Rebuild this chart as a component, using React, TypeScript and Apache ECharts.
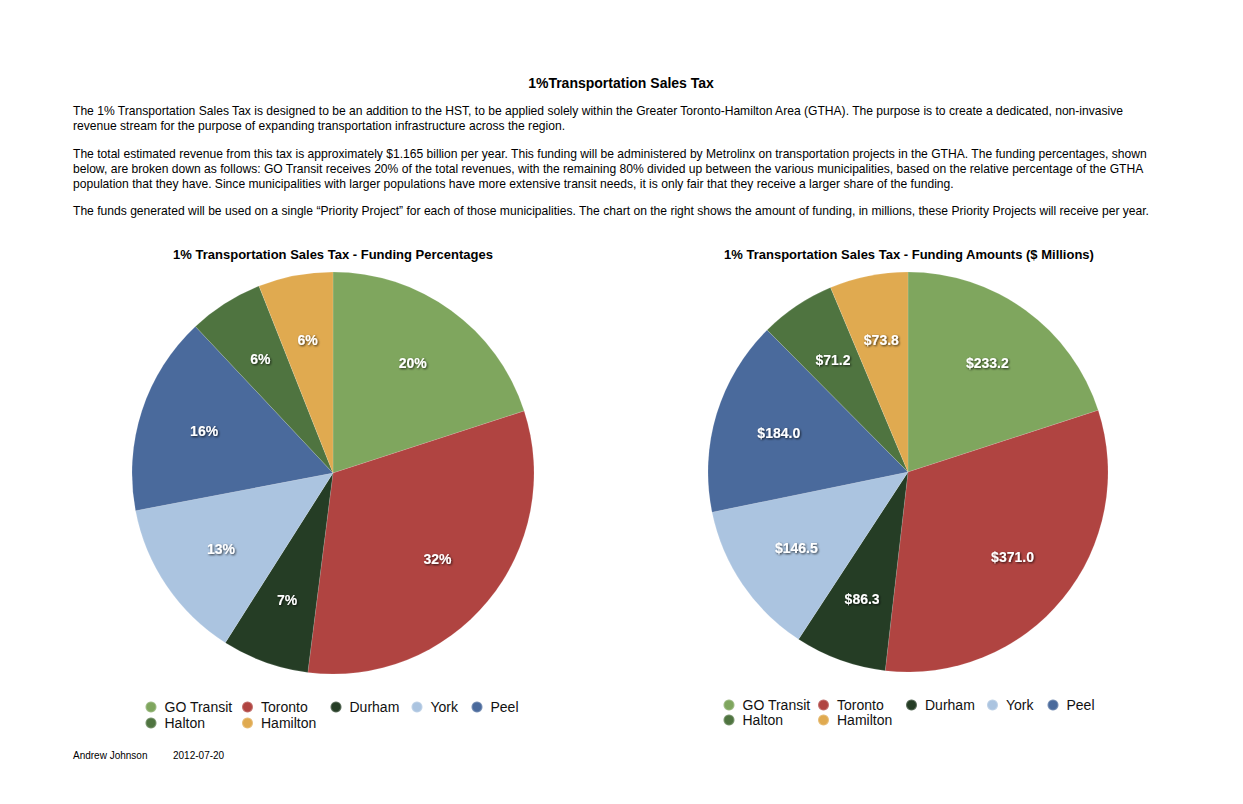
import React, { useEffect, useRef } from "react";
import * as echarts from "echarts";

const categories = ["GO Transit", "Toronto", "Durham", "York", "Peel", "Halton", "Hamilton"];
const percentages = [20, 32, 7, 13, 16, 6, 6];
const amounts = [233.2, 371.0, 86.3, 146.5, 184.0, 71.2, 73.8];
const colors = ["#7FA65E", "#B04441", "#253D25", "#ABC4E0", "#4A6A9C", "#4F7440", "#E0AA50"];

const mainTitle = "1%Transportation Sales Tax";
const leftTitle = "1% Transportation Sales Tax - Funding Percentages";
const rightTitle = "1% Transportation Sales Tax - Funding Amounts ($ Millions)";
const paragraphLines = [
  "The 1% Transportation Sales Tax is designed to be an addition to the HST, to be applied solely within the Greater Toronto-Hamilton Area (GTHA). The purpose is to create a dedicated, non-invasive",
  "revenue stream for the purpose of expanding transportation infrastructure across the region.",
  "The total estimated revenue from this tax is approximately $1.165 billion per year. This funding will be administered by Metrolinx on transportation projects in the GTHA. The funding percentages, shown",
  "below, are broken down as follows: GO Transit receives 20% of the total revenues, with the remaining 80% divided up between the various municipalities, based on the relative percentage of the GTHA",
  "population that they have. Since municipalities with larger populations have more extensive transit needs, it is only fair that they receive a larger share of the funding.",
  "The funds generated will be used on a single \u201cPriority Project\u201d for each of those municipalities. The chart on the right shows the amount of funding, in millions, these Priority Projects will receive per year.",
];
const paragraphY = [111, 126, 154, 169, 184, 211];
const footerAuthor = "Andrew Johnson";
const footerDate = "2012-07-20";

const FONT = "'Liberation Sans', Arial, Helvetica, sans-serif";

// legend layout: circle centre x for each item, row index
const leftLegendX = [152, 248.5, 337, 418, 478, 152, 248.5];
const leftLegendY = [707, 707, 707, 707, 707, 723, 723];
const rightLegendX = [730, 824.5, 912.5, 993.5, 1054, 730, 824.5];
const rightLegendY = [705, 705, 705, 705, 705, 720, 720];

function makeLegends(xs: number[], ys: number[]) {
  return categories.map((name, i) => ({
    left: xs[i] - 7.5,
    top: ys[i] - 8,
    orient: "horizontal",
    icon: "circle",
    itemWidth: 15,
    itemHeight: 11,
    itemGap: 0,
    selectedMode: false,
    padding: 0,
    data: [{ name, itemStyle: { color: colors[i] } }],
    textStyle: { fontSize: 14, lineHeight: 16, color: "#111", fontFamily: FONT, padding: [0, 0, 0, 1] },
  }));
}

function pieSeries(values: number[], center: number[], r: number, fmt: (i: number) => string) {
  const data = categories.map((name, i) => ({ name, value: values[i], itemStyle: { color: colors[i] } }));
  return [
    {
      type: "pie",
      center,
      radius: [0, r],
      startAngle: 90,
      clockwise: true,
      data,
      label: { show: false },
      labelLine: { show: false },
      silent: true,
      itemStyle: { borderColor: "rgba(255,255,255,0.25)", borderWidth: 0.5 },
    },
    {
      type: "pie",
      center,
      radius: [Math.round(r * 0.32), r],
      startAngle: 90,
      clockwise: true,
      silent: true,
      data: categories.map((name, i) => ({ name, value: values[i], itemStyle: { color: "rgba(0,0,0,0)" } })),
      labelLine: { show: false },
      label: {
        show: true,
        position: "inside",
        formatter: (p: any) => fmt(p.dataIndex),
        color: "#fff",
        fontSize: 14,
        fontWeight: "bold",
        fontFamily: FONT,
        textShadowColor: "rgba(0,0,0,0.75)",
        textShadowBlur: 2,
        textShadowOffsetX: 1,
        textShadowOffsetY: 1,
      },
    },
  ];
}

export default function App() {
  const ref = useRef<HTMLDivElement>(null);
  useEffect(() => {
    if (!ref.current) return;
    const chart = echarts.init(ref.current, null, { renderer: "svg" });
    const textEls: any[] = [];
    textEls.push({
      type: "text",
      x: 621,
      y: 83,
      style: { text: mainTitle, fontSize: 14, fontWeight: "bold", fontFamily: FONT, fill: "#000", align: "center", verticalAlign: "middle" },
    });
    paragraphLines.forEach((t, i) => {
      textEls.push({
        type: "text",
        x: 73,
        y: paragraphY[i],
        style: { text: t, fontSize: 12.1, fontFamily: FONT, fill: "#000", align: "left", verticalAlign: "middle" },
      });
    });
    textEls.push({
      type: "text",
      x: 333,
      y: 254,
      style: { text: leftTitle, fontSize: 13, fontWeight: "bold", fontFamily: FONT, fill: "#000", align: "center", verticalAlign: "middle" },
    });
    textEls.push({
      type: "text",
      x: 909,
      y: 254,
      style: { text: rightTitle, fontSize: 13, fontWeight: "bold", fontFamily: FONT, fill: "#000", align: "center", verticalAlign: "middle" },
    });
    textEls.push({
      type: "text",
      x: 73,
      y: 755,
      style: { text: footerAuthor, fontSize: 10, fontFamily: FONT, fill: "#000", align: "left", verticalAlign: "middle" },
    });
    textEls.push({
      type: "text",
      x: 173,
      y: 755,
      style: { text: footerDate, fontSize: 10, fontFamily: FONT, fill: "#000", align: "left", verticalAlign: "middle" },
    });

    chart.setOption({
      animation: false,
      backgroundColor: "#fff",
      graphic: { elements: textEls },
      legend: [...makeLegends(leftLegendX, leftLegendY), ...makeLegends(rightLegendX, rightLegendY)],
      series: [
        ...pieSeries(percentages, [333, 473], 201, (i) => `${percentages[i]}%`),
        ...pieSeries(amounts, [908, 472], 200, (i) => `$${amounts[i].toFixed(1)}`),
      ],
    });
    return () => chart.dispose();
  }, []);
  return (
    <div
      ref={ref}
      style={{ position: "absolute", left: 0, top: 0, width: "1243px", height: "804px", background: "#fff" }}
    />
  );
}
